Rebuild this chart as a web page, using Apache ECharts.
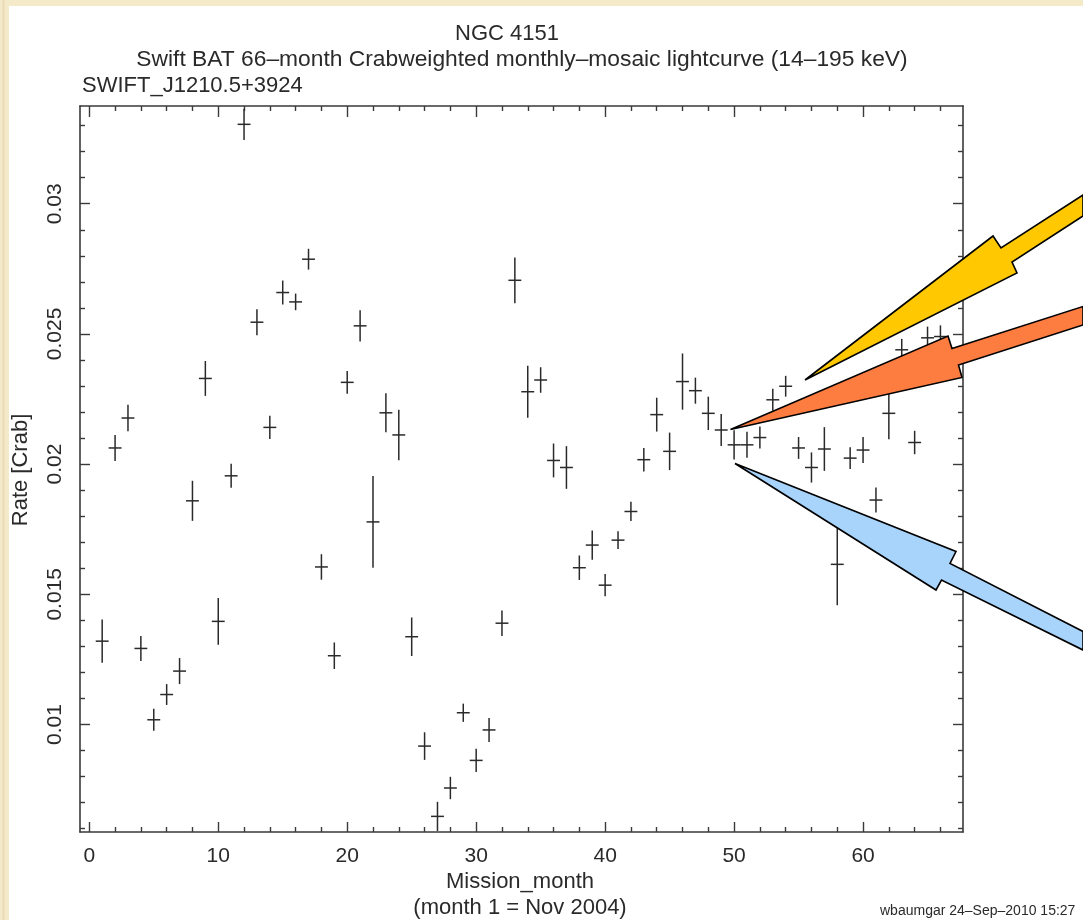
<!DOCTYPE html>
<html><head><meta charset="utf-8">
<script src="https://cdn.jsdelivr.net/npm/echarts@6/dist/echarts.min.js"></script>
<style>html,body{margin:0;padding:0;background:#f4e9c8}#c{width:1083px;height:920px}</style>
</head><body><div id="c"></div>
<script>
const months = [1,2,3,4,5,6,7,8,9,10,11,12,13,14,15,16,17,18,19,20,21,22,23,24,25,26,27,28,29,30,31,32,33,34,35,36,37,38,39,40,41,42,43,44,45,46,47,48,49,50,51,52,53,54,55,56,57,58,59,60,61,62,63,64,65,66];
const rate = [0.01320,0.02062,0.02177,0.01292,0.01018,0.01115,0.01205,0.01859,0.02329,0.01396,
  0.01955,0.03305,0.02545,0.02141,0.02659,0.02623,0.02787,0.01605,0.01264,0.02314,
  0.02531,0.01778,0.02197,0.02112,0.01337,0.00917,0.00647,0.00756,0.01045,0.00862,
  0.00979,0.01389,0.02706,0.02278,0.02323,0.02014,0.01987,0.01602,0.01689,0.01535,
  0.01708,0.01818,0.02017,0.02190,0.02049,0.02317,0.02282,0.02195,0.02131,0.02074,
  0.02074,0.02102,0.02247,0.02299,0.02062,0.01987,0.02058,0.01615,0.02023,0.02054,
  0.01862,0.02195,0.02439,0.02083,0.02485,0.02490];
const rateErr = [0.00083,0.0005,0.00051,0.00048,0.00042,0.0004,0.0005,0.00077,0.00067,0.0009,
  0.00046,0.0006,0.0005,0.00045,0.00046,0.00032,0.0004,0.00049,0.00051,0.00044,
  0.0006,0.00176,0.00075,0.00097,0.00074,0.00053,0.00056,0.00043,0.00035,0.00045,
  0.00046,0.00049,0.00088,0.001,0.00049,0.00065,0.00082,0.00047,0.00056,0.00043,
  0.00034,0.00037,0.00045,0.00065,0.00072,0.00108,0.0005,0.00064,0.00061,0.00056,
  0.0005,0.00042,0.00042,0.0004,0.00042,0.00058,0.00084,0.00157,0.00042,0.0005,
  0.00048,0.001,0.00042,0.00045,0.00043,0.00043];
const xMajorTicks = [0,10,20,30,40,50,60];
const xMinorTicks = [2,4,6,8,12,14,16,18,22,24,26,28,32,34,36,38,42,44,46,48,52,54,56,58,62,64,66];
const yMajorTicks = [0.01,0.015,0.02,0.025,0.03];
const yMinorTicks = [0.006,0.007,0.008,0.009,0.011,0.012,0.013,0.014,0.016,0.017,0.018,0.019,0.021,0.022,0.023,0.024,0.026,0.027,0.028,0.029,0.031,0.032,0.033];
const binHalfWidth = 0.5;

const FONT = '"Liberation Sans", Arial, sans-serif';
const INK = '#2a2a2a';
const AX = '#3a3a3a';

const chart = echarts.init(document.getElementById('c'), null, {renderer: 'canvas'});

function axisX(position, ticks, len, showLabel, showLine) {
  return {
    type: 'value', min: -0.72, max: 67.75, position: position, gridIndex: 0,
    axisLine: {show: showLine, onZero: false, lineStyle: {color: AX, width: 1.6}},
    axisTick: {show: true, inside: true, length: len, customValues: ticks, lineStyle: {color: AX, width: 1.4}},
    axisLabel: showLabel ? {show: true, customValues: ticks, margin: 14, fontSize: 21, fontFamily: FONT, color: INK} : {show: false},
    splitLine: {show: false}
  };
}
function axisY(position, ticks, len, showLabel, showLine) {
  return {
    type: 'value', min: 0.00587, max: 0.033754, position: position, gridIndex: 0,
    axisLine: {show: showLine, onZero: false, lineStyle: {color: AX, width: 1.6}},
    axisTick: {show: true, inside: true, length: len, customValues: ticks, lineStyle: {color: AX, width: 1.4}},
    axisLabel: showLabel ? {show: true, customValues: ticks, rotate: 90, margin: 14, fontSize: 21, fontFamily: FONT, color: INK,
      formatter: v => String(+v.toFixed(4))} : {show: false},
    splitLine: {show: false}
  };
}

const data = months.map((m, i) => [m, rate[i], rateErr[i]]);

function arrow(points, color) {
  return {type: 'polygon', z: 100, shape: {points: points},
    style: {fill: color, stroke: '#000', lineWidth: 1.6, lineJoin: 'miter'}};
}
function txt(x, y, s, size, align, rot) {
  return {type: 'text', x: x, y: y, rotation: rot || 0, z: 50,
    style: {text: s, fontSize: size, fontFamily: FONT, fill: INK, textAlign: align || 'center', textVerticalAlign: 'middle'}};
}

chart.setOption({
  backgroundColor: '#f4e9c8',
  animation: false,
  grid: {left: 80, right: 120, top: 106, bottom: 88, show: false},
  xAxis: [
    axisX('bottom', xMajorTicks, 10, true, true),
    axisX('bottom', xMinorTicks, 5, false, false),
    axisX('top', xMajorTicks, 11, false, true),
    axisX('top', xMinorTicks, 5, false, false)
  ],
  yAxis: [
    axisY('left', yMajorTicks, 10, true, true),
    axisY('left', yMinorTicks, 5, false, false),
    axisY('right', yMajorTicks, 10, false, true),
    axisY('right', yMinorTicks, 5, false, false)
  ],
  graphic: [
    {type: 'rect', z: -10, shape: {x: 9, y: 6, width: 1074, height: 914}, style: {fill: '#ffffff'}},
    {type: 'line', z: -10, shape: {x1: 3.5, y1: 0, x2: 3.5, y2: 920}, style: {stroke: '#e9dcb4', lineWidth: 2}},
    txt(507, 34, 'NGC 4151', 22),
    txt(522, 60, 'Swift BAT 66\u2013month Crabweighted monthly\u2013mosaic lightcurve (14\u2013195 keV)', 22.8),
    txt(82, 86, 'SWIFT_J1210.5+3924', 22, 'left'),
    txt(21, 470, 'Rate [Crab]', 22, 'center', Math.PI / 2),
    txt(520, 882, 'Mission_month', 22),
    txt(520, 908, '(month 1 = Nov 2004)', 22),
    txt(880, 911, 'wbaumgar 24\u2013Sep\u20132010 15:27', 14, 'left'),
    arrow([[805,380],[993,236],[1001,248],[1083,195],[1083,216],[1012,262],[1017,273]], '#ffc800'),
    arrow([[730.5,429.5],[948,336],[952,348.5],[1083,306.5],[1083,325],[958.5,365],[962,377.5]], '#fd7d40'),
    arrow([[735,463.5],[956,551.5],[950,563.5],[1083,631.5],[1083,650],[941.5,580],[936,590]], '#a8d4fc')
  ],
  series: [{
    type: 'custom',
    xAxisIndex: 0, yAxisIndex: 0,
    data: data,
    clip: true,
    renderItem: function (params, api) {
      const x = api.value(0), y = api.value(1), e = api.value(2);
      const top = api.coord([x, y + e]);
      const bot = api.coord([x, y - e]);
      const l = api.coord([x - binHalfWidth, y]);
      const r = api.coord([x + binHalfWidth, y]);
      const st = {stroke: INK, lineWidth: 1.5};
      return {type: 'group', children: [
        {type: 'line', shape: {x1: top[0], y1: top[1], x2: bot[0], y2: bot[1]}, style: st},
        {type: 'line', shape: {x1: l[0], y1: l[1], x2: r[0], y2: r[1]}, style: st}
      ]};
    }
  }]
});
</script></body></html>
